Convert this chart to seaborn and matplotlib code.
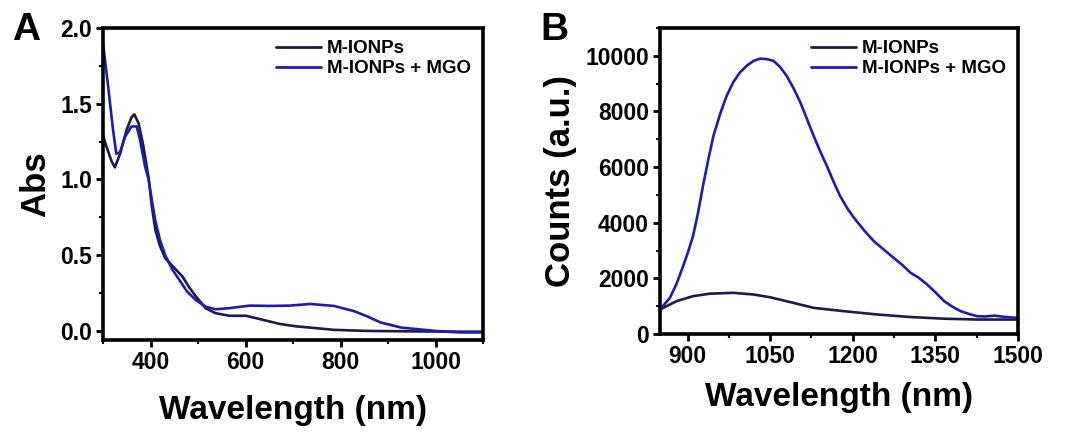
import numpy as np
import pandas as pd
import matplotlib
matplotlib.use("Agg")
import matplotlib.pyplot as plt
import seaborn as sns
from matplotlib.ticker import AutoMinorLocator

# ---- Panel A data (absorbance) ----
a_wl_ionp = [300, 307, 318, 325, 336, 350, 360, 366, 375, 385, 396, 403, 410, 420, 431, 449, 467, 481,
             495, 516, 537, 566, 601, 637, 672, 707, 736, 786, 857, 950, 1050, 1100]
a_abs_ionp = [1.29, 1.22, 1.12, 1.08, 1.17, 1.33, 1.41, 1.43, 1.37, 1.22, 1.01, 0.82, 0.67, 0.56, 0.48, 0.42, 0.36, 0.29,
              0.23, 0.15, 0.117, 0.10, 0.10, 0.073, 0.046, 0.03, 0.022, 0.007, 0.0, -0.003, -0.005, -0.005]
a_wl_mgo = [300, 311, 321, 328, 336, 346, 360, 371, 378, 389, 396, 403, 410, 420, 431, 445, 460, 477, 495,
            516, 537, 566, 608, 651, 693, 736, 786, 829, 857, 885, 928, 999, 1050, 1100]
a_abs_mgo = [1.90, 1.61, 1.33, 1.17, 1.18, 1.28, 1.35, 1.35, 1.26, 1.08, 1.0, 0.86, 0.73, 0.60, 0.50, 0.41, 0.34, 0.26, 0.205,
             0.16, 0.143, 0.15, 0.167, 0.165, 0.167, 0.178, 0.165, 0.13, 0.095, 0.055, 0.022, 0.0, -0.01, -0.01]

# ---- Panel B data (NIR emission counts) ----
b_wl_ionp = [850, 880, 910, 941, 983, 1020, 1050, 1092, 1129, 1184, 1245, 1305, 1366, 1426, 1500]
b_cnt_ionp = [880, 1180, 1360, 1450, 1480, 1420, 1320, 1120, 940, 820, 700, 610, 550, 520, 520]
b_wl_mgo = [850, 868, 880, 892, 901, 910, 919, 928, 938, 947, 959, 971, 983, 995, 1008, 1020, 1032, 1044, 1056, 1068,
            1080, 1092, 1105, 1117, 1129, 1141, 1153, 1165, 1177, 1190, 1202, 1220, 1238, 1256, 1274, 1290, 1305, 1320,
            1335, 1350, 1366, 1381, 1396, 1411, 1426, 1441, 1457, 1478, 1500]
b_cnt_mgo = [880, 1300, 1800, 2440, 2950, 3520, 4350, 5320, 6300, 7120, 7900, 8560, 9050, 9400, 9650, 9820, 9900, 9880, 9820, 9600,
             9280, 8850, 8320, 7720, 7120, 6560, 6040, 5480, 4960, 4520, 4180, 3740, 3340, 3040, 2740, 2480, 2200, 2020,
             1780, 1500, 1180, 980, 820, 720, 640, 630, 660, 610, 580]

labels = ["M-IONPs", "M-IONPs + MGO"]
colors = ["#1b1b45", "#1c1cb0"]

dfA = pd.concat([
    pd.DataFrame({"wl": a_wl_ionp, "y": a_abs_ionp, "s": labels[0]}),
    pd.DataFrame({"wl": a_wl_mgo, "y": a_abs_mgo, "s": labels[1]}),
])
dfB = pd.concat([
    pd.DataFrame({"wl": b_wl_ionp, "y": b_cnt_ionp, "s": labels[0]}),
    pd.DataFrame({"wl": b_wl_mgo, "y": b_cnt_mgo, "s": labels[1]}),
])

sns.set_theme(style="ticks")
plt.rcParams["font.family"] = ["Liberation Sans", "DejaVu Sans"]
plt.rcParams["font.weight"] = "bold"
plt.rcParams["text.color"] = "black"
plt.rcParams["axes.labelcolor"] = "black"
plt.rcParams["xtick.color"] = "black"
plt.rcParams["ytick.color"] = "black"

fig = plt.figure(figsize=(10.71, 4.34), dpi=100)
axA = fig.add_axes([103/1071, 1 - 340/434, 380/1071, 312/434])
axB = fig.add_axes([660/1071, 1 - 334/434, 358/1071, 306/434])

pal = dict(zip(labels, colors))
for ax, df in [(axA, dfA), (axB, dfB)]:
    sns.lineplot(data=df, x="wl", y="y", hue="s", palette=pal, ax=ax,
                 linewidth=1.9, sort=True, estimator=None)
    for sp in ax.spines.values():
        sp.set_linewidth(2.6)
        sp.set_color("black")
    ax.tick_params(which="major", direction="out", length=5, width=2, labelsize=16.5, colors="black", pad=3)
    ax.tick_params(which="minor", direction="out", length=3, width=1.5, colors="black")
    leg = ax.legend(loc="upper right", frameon=False, fontsize=13.5, handlelength=2.4,
                    borderaxespad=0.25, labelspacing=0.15, handletextpad=0.3)
    for t in leg.get_texts():
        t.set_fontweight("bold")
        t.set_color("black")
    for h in leg.get_lines():
        h.set_linewidth(2)

axA.set_xlabel("Wavelength (nm)", fontsize=24, fontweight="bold", labelpad=15, color="black")
axB.set_xlabel("Wavelength (nm)", fontsize=24, fontweight="bold", labelpad=10, color="black")

axA.set_xlim(300, 1100)
axA.set_ylim(-0.06, 2.0)
axA.set_xticks([400, 600, 800, 1000])
axA.set_xticklabels(["400", "600", "800", "1000"], fontweight="bold")
axA.xaxis.set_minor_locator(AutoMinorLocator(2))
axA.set_yticks([0, 0.5, 1.0, 1.5, 2.0])
axA.set_yticklabels(["0.0", "0.5", "1.0", "1.5", "2.0"], fontweight="bold")
axA.yaxis.set_minor_locator(AutoMinorLocator(2))
axA.set_ylabel("Abs", fontsize=25, fontweight="bold", labelpad=6, color="black")

axB.set_xlim(850, 1500)
axB.set_ylim(0, 11000)
axB.set_xticks([900, 1050, 1200, 1350, 1500])
axB.set_xticklabels(["900", "1050", "1200", "1350", "1500"], fontweight="bold")
axB.xaxis.set_minor_locator(AutoMinorLocator(2))
axB.set_yticks([0, 2000, 4000, 6000, 8000, 10000])
axB.set_yticklabels(["0", "2000", "4000", "6000", "8000", "10000"], fontweight="bold")
axB.yaxis.set_minor_locator(AutoMinorLocator(2))
axB.set_ylabel("Counts (a.u.)", fontsize=25, fontweight="bold", labelpad=6, color="black")

fig.text(12/1071, 1 - 40/434, "A", fontsize=28, fontweight="bold", color="black")
fig.text(540/1071, 1 - 40/434, "B", fontsize=28, fontweight="bold", color="black")

fig.savefig("out.png", dpi=100)
